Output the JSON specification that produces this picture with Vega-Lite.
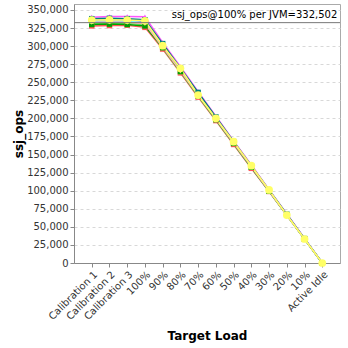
{
  "$schema": "https://vega.github.io/schema/vega-lite/v6.json",
  "width": 266,
  "height": 259,
  "autosize": "none",
  "padding": {"left": 74, "top": 4, "right": 8, "bottom": 85},
  "background": "white",
  "config": {
    "view": {"stroke": "#aaaaaa", "strokeWidth": 1},
    "font": "DejaVu Sans",
    "axis": {"labelFont": "DejaVu Sans", "titleFont": "DejaVu Sans", "labelColor": "#333333", "titleColor": "#000000", "domainColor": "#888888", "tickColor": "#888888"}
  },
  "datasets": {
    "ops": [
      {"s": "A", "t": "Calibration 1", "v": 328000}, {"s": "A", "t": "Calibration 2", "v": 328500}, {"s": "A", "t": "Calibration 3", "v": 329000}, {"s": "A", "t": "100%", "v": 326000}, {"s": "A", "t": "90%", "v": 296000}, {"s": "A", "t": "80%", "v": 263000}, {"s": "A", "t": "70%", "v": 229500}, {"s": "A", "t": "60%", "v": 197000}, {"s": "A", "t": "50%", "v": 164000}, {"s": "A", "t": "40%", "v": 131000}, {"s": "A", "t": "30%", "v": 99000}, {"s": "A", "t": "20%", "v": 66000}, {"s": "A", "t": "10%", "v": 33000}, {"s": "A", "t": "Active Idle", "v": 0},
      {"s": "B", "t": "Calibration 1", "v": 336000}, {"s": "B", "t": "Calibration 2", "v": 337000}, {"s": "B", "t": "Calibration 3", "v": 336500}, {"s": "B", "t": "100%", "v": 334000}, {"s": "B", "t": "90%", "v": 301500}, {"s": "B", "t": "80%", "v": 268000}, {"s": "B", "t": "70%", "v": 234500}, {"s": "B", "t": "60%", "v": 201000}, {"s": "B", "t": "50%", "v": 167500}, {"s": "B", "t": "40%", "v": 134000}, {"s": "B", "t": "30%", "v": 100500}, {"s": "B", "t": "20%", "v": 67000}, {"s": "B", "t": "10%", "v": 33500}, {"s": "B", "t": "Active Idle", "v": 0},
      {"s": "C", "t": "Calibration 1", "v": 331000}, {"s": "C", "t": "Calibration 2", "v": 331500}, {"s": "C", "t": "Calibration 3", "v": 332000}, {"s": "C", "t": "100%", "v": 329500}, {"s": "C", "t": "90%", "v": 297500}, {"s": "C", "t": "80%", "v": 264500}, {"s": "C", "t": "70%", "v": 231000}, {"s": "C", "t": "60%", "v": 198000}, {"s": "C", "t": "50%", "v": 165000}, {"s": "C", "t": "40%", "v": 132000}, {"s": "C", "t": "30%", "v": 99200}, {"s": "C", "t": "20%", "v": 66200}, {"s": "C", "t": "10%", "v": 33100}, {"s": "C", "t": "Active Idle", "v": 0},
      {"s": "D", "t": "Calibration 1", "v": 340000}, {"s": "D", "t": "Calibration 2", "v": 341000}, {"s": "D", "t": "Calibration 3", "v": 341000}, {"s": "D", "t": "100%", "v": 340500}, {"s": "D", "t": "90%", "v": 305000}, {"s": "D", "t": "80%", "v": 271500}, {"s": "D", "t": "70%", "v": 237000}, {"s": "D", "t": "60%", "v": 203000}, {"s": "D", "t": "50%", "v": 169000}, {"s": "D", "t": "40%", "v": 135500}, {"s": "D", "t": "30%", "v": 101500}, {"s": "D", "t": "20%", "v": 68000}, {"s": "D", "t": "10%", "v": 34000}, {"s": "D", "t": "Active Idle", "v": 0},
      {"s": "E", "t": "Calibration 1", "v": 334000}, {"s": "E", "t": "Calibration 2", "v": 334500}, {"s": "E", "t": "Calibration 3", "v": 334000}, {"s": "E", "t": "100%", "v": 332000}, {"s": "E", "t": "90%", "v": 299000}, {"s": "E", "t": "80%", "v": 266000}, {"s": "E", "t": "70%", "v": 232700}, {"s": "E", "t": "60%", "v": 199500}, {"s": "E", "t": "50%", "v": 166200}, {"s": "E", "t": "40%", "v": 133000}, {"s": "E", "t": "30%", "v": 99800}, {"s": "E", "t": "20%", "v": 66500}, {"s": "E", "t": "10%", "v": 33300}, {"s": "E", "t": "Active Idle", "v": 0},
      {"s": "F", "t": "Calibration 1", "v": 338000}, {"s": "F", "t": "Calibration 2", "v": 338500}, {"s": "F", "t": "Calibration 3", "v": 338000}, {"s": "F", "t": "100%", "v": 336500}, {"s": "F", "t": "90%", "v": 303500}, {"s": "F", "t": "80%", "v": 270000}, {"s": "F", "t": "70%", "v": 236000}, {"s": "F", "t": "60%", "v": 202000}, {"s": "F", "t": "50%", "v": 168000}, {"s": "F", "t": "40%", "v": 134500}, {"s": "F", "t": "30%", "v": 101000}, {"s": "F", "t": "20%", "v": 67500}, {"s": "F", "t": "10%", "v": 33800}, {"s": "F", "t": "Active Idle", "v": 0},
      {"s": "G", "t": "Calibration 1", "v": 330000}, {"s": "G", "t": "Calibration 2", "v": 330500}, {"s": "G", "t": "Calibration 3", "v": 330000}, {"s": "G", "t": "100%", "v": 328000}, {"s": "G", "t": "90%", "v": 298000}, {"s": "G", "t": "80%", "v": 265000}, {"s": "G", "t": "70%", "v": 231500}, {"s": "G", "t": "60%", "v": 198500}, {"s": "G", "t": "50%", "v": 165500}, {"s": "G", "t": "40%", "v": 132500}, {"s": "G", "t": "30%", "v": 99500}, {"s": "G", "t": "20%", "v": 66300}, {"s": "G", "t": "10%", "v": 33100}, {"s": "G", "t": "Active Idle", "v": 0},
      {"s": "H", "t": "Calibration 1", "v": 333000}, {"s": "H", "t": "Calibration 2", "v": 333500}, {"s": "H", "t": "Calibration 3", "v": 333000}, {"s": "H", "t": "100%", "v": 331000}, {"s": "H", "t": "90%", "v": 298500}, {"s": "H", "t": "80%", "v": 265500}, {"s": "H", "t": "70%", "v": 232000}, {"s": "H", "t": "60%", "v": 199000}, {"s": "H", "t": "50%", "v": 166000}, {"s": "H", "t": "40%", "v": 133000}, {"s": "H", "t": "30%", "v": 99700}, {"s": "H", "t": "20%", "v": 66400}, {"s": "H", "t": "10%", "v": 33200}, {"s": "H", "t": "Active Idle", "v": 0},
      {"s": "I", "t": "Calibration 1", "v": 336000}, {"s": "I", "t": "Calibration 2", "v": 336500}, {"s": "I", "t": "Calibration 3", "v": 336000}, {"s": "I", "t": "100%", "v": 335000}, {"s": "I", "t": "90%", "v": 300600}, {"s": "I", "t": "80%", "v": 269400}, {"s": "I", "t": "70%", "v": 232400}, {"s": "I", "t": "60%", "v": 200200}, {"s": "I", "t": "50%", "v": 167800}, {"s": "I", "t": "40%", "v": 134600}, {"s": "I", "t": "30%", "v": 101000}, {"s": "I", "t": "20%", "v": 66400}, {"s": "I", "t": "10%", "v": 33200}, {"s": "I", "t": "Active Idle", "v": 0}
    ],
    "ref": [{"v": 332502, "label": "ssj_ops@100% per JVM=332,502", "t": "Active Idle"}]
  },
  "encoding": {
    "y": {"field": "v", "type": "quantitative",
      "scale": {"domain": [0, 358300], "nice": false, "zero": true},
      "axis": {"title": "ssj_ops", "titleFontSize": 12, "titleFontWeight": "bold", "titlePadding": 1, "labelFontSize": 10, "tickSize": 4, "labelPadding": 2, "labelOverlap": false, "labelBound": false, "values": [0, 25000, 50000, 75000, 100000, 125000, 150000, 175000, 200000, 225000, 250000, 275000, 300000, 325000, 350000], "format": ",d", "grid": true, "gridDash": [3, 3], "gridColor": "#d8d8d8", "domainColor": "#888888"}}
  },
  "layer": [
    {
      "data": {"name": "ops"},
      "encoding": {
        "x": {"field": "t", "type": "nominal", "sort": null,
          "scale": {"type": "point", "padding": 1.14,
            "domain": ["Calibration 1", "Calibration 2", "Calibration 3", "100%", "90%", "80%", "70%", "60%", "50%", "40%", "30%", "20%", "10%", "Active Idle"]},
          "axis": {"title": "Target Load", "titleFontSize": 12, "titleFontWeight": "bold", "titlePadding": 9, "labelAngle": -45, "labelAlign": "right", "labelBaseline": "top", "labelFontSize": 10, "labelPadding": 2, "labelOverlap": false, "tickSize": 4, "grid": false, "domainColor": "#888888"}},
        "color": {"field": "s", "type": "nominal", "legend": null,
          "scale": {"domain": ["A", "B", "C", "D", "E", "F", "G", "H", "I"],
            "range": ["#FF5555", "#5555FF", "#55FF55", "#FF55FF", "#55FFFF", "#008080", "#00A000", "#FFAFAF", "#FFFF66"]}}
      },
      "layer": [
        {"mark": {"type": "line", "strokeWidth": 1.5}},
        {"mark": {"type": "point", "filled": true, "opacity": 1, "size": 30},
          "encoding": {
            "shape": {"field": "s", "type": "nominal", "legend": null,
              "scale": {"domain": ["A", "B", "C", "D", "E", "F", "G", "H", "I"],
                "range": ["square", "circle", "triangle-up", "triangle-up", "diamond", "square", "square", "triangle-down", "circle"]}},
            "size": {"condition": {"test": "datum.s === 'I'", "value": 60}, "value": 30}
          }}
      ]
    },
    {
      "data": {"name": "ref"},
      "mark": {"type": "rule", "color": "#777777", "strokeWidth": 1},
      "encoding": {}
    },
    {
      "data": {"name": "ref"},
      "mark": {"type": "text", "align": "right", "baseline": "bottom", "dx": 15, "dy": -3, "fontSize": 10, "font": "DejaVu Sans", "color": "#000000"},
      "encoding": {
        "x": {"field": "t", "type": "nominal"},
        "text": {"field": "label"}
      }
    }
  ]
}
